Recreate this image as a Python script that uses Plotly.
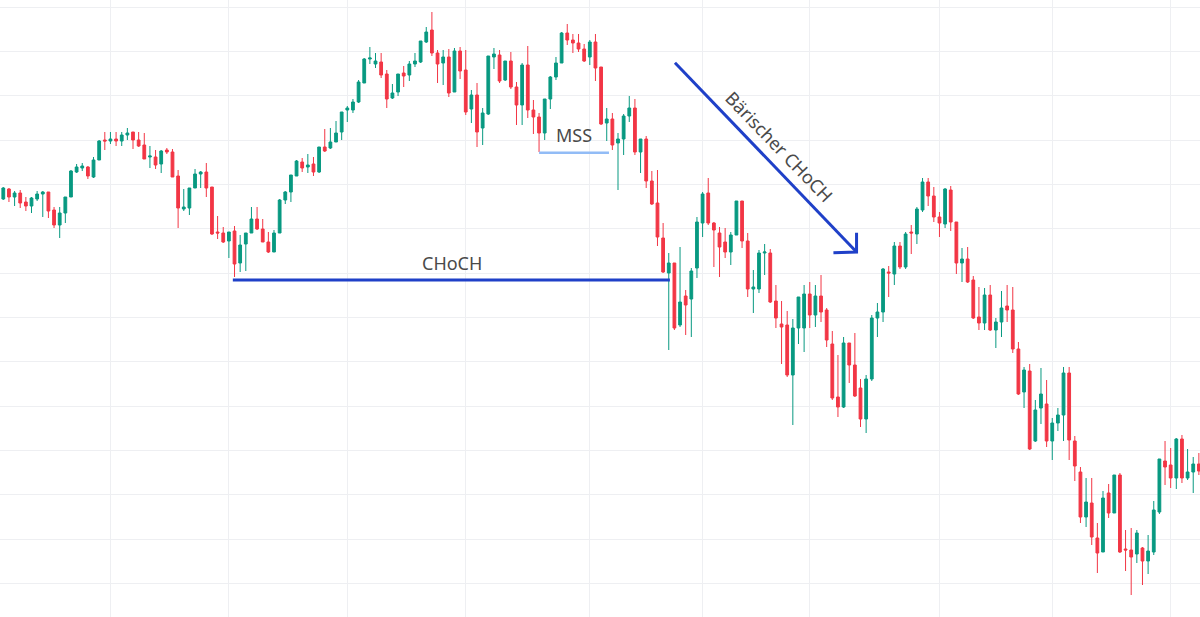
import plotly.graph_objects as go

# OHLC values (arbitrary price units, one candle per session)
open_p = [
    417, 421, 431, 423, 427, 418, 414, 421, 426, 428,
    410, 395, 407, 423, 448, 452, 453, 443, 460, 480,
    479, 481, 479, 485, 488, 480, 475, 463, 463, 456,
    470, 468, 444, 411, 412, 432, 446, 448, 433, 388,
    387, 379, 389, 357, 376, 387, 401, 391, 378, 368,
    387, 420, 428, 444, 458, 453, 456, 448, 473, 472,
    478, 488, 510, 510, 518, 537, 561, 556, 558, 546,
    522, 528, 547, 545, 556, 558, 578, 590, 567, 557,
    563, 528, 569, 550, 511, 525, 492, 506, 563, 565,
    540, 559, 533, 515, 555, 510, 503, 487, 521, 543,
    557, 587, 580, 577, 571, 563, 578, 553, 497, 501,
    477, 481, 504, 512, 468, 481, 439, 417, 382, 347,
    357, 295, 324, 321, 352, 397, 427, 397, 387, 378,
    368, 385, 419, 379, 331, 331, 367, 367, 319, 296,
    295, 245, 292, 292, 326, 305, 324, 310, 276, 223,
    213, 277, 255, 232, 201, 241, 302, 308, 348, 346,
    374, 353, 388, 386, 410, 438, 424, 403, 396, 430,
    398, 357, 361, 340, 303, 297, 325, 290, 298, 314,
    310, 271, 228, 249, 179, 212, 216, 179, 197, 205,
    247, 179, 148, 103, 117, 82, 68, 127, 107, 145,
    71, 70, 66, 72, 59, 68, 108, 159, 155, 142,
    181, 142, 148, 156,
]
high_p = [
    427, 433, 432, 429, 430, 423, 423, 429, 429, 428,
    413, 413, 423, 450, 456, 457, 454, 463, 480, 488,
    488, 488, 488, 492, 488, 488, 487, 474, 470, 470,
    472, 471, 450, 431, 432, 451, 449, 457, 433, 404,
    393, 388, 394, 385, 387, 413, 413, 401, 388, 390,
    421, 429, 445, 460, 462, 466, 463, 473, 491, 492,
    499, 508, 514, 521, 540, 562, 573, 567, 567, 550,
    536, 546, 554, 559, 567, 579, 593, 608, 570, 570,
    571, 572, 573, 570, 530, 537, 512, 564, 572, 570,
    559, 568, 538, 557, 574, 520, 507, 521, 544, 563,
    588, 596, 586, 586, 576, 580, 586, 553, 512, 507,
    487, 506, 524, 521, 481, 484, 449, 450, 397, 367,
    357, 373, 330, 352, 403, 428, 442, 398, 393, 392,
    388, 419, 419, 387, 350, 370, 376, 371, 335, 319,
    309, 301, 323, 335, 338, 335, 345, 312, 289, 265,
    283, 277, 287, 241, 245, 305, 317, 352, 354, 378,
    378, 388, 395, 413, 442, 442, 433, 408, 432, 434,
    398, 372, 373, 344, 333, 332, 335, 302, 329, 335,
    333, 278, 253, 256, 220, 252, 240, 202, 212, 253,
    253, 184, 153, 142, 142, 97, 129, 136, 145, 147,
    90, 92, 90, 73, 85, 119, 161, 179, 172, 182,
    185, 171, 163, 167,
]
low_p = [
    415, 420, 418, 414, 412, 409, 407, 419, 403, 402,
    392, 382, 397, 423, 447, 449, 441, 442, 460, 470,
    476, 474, 474, 480, 471, 473, 461, 452, 451, 447,
    466, 443, 392, 409, 405, 432, 432, 423, 385, 381,
    377, 362, 343, 348, 349, 387, 390, 378, 367, 368,
    387, 416, 418, 444, 448, 447, 444, 447, 468, 471,
    478, 480, 498, 507, 517, 537, 556, 552, 542, 512,
    521, 524, 533, 539, 553, 557, 577, 564, 537, 535,
    523, 528, 541, 505, 497, 473, 475, 505, 551, 537,
    539, 531, 495, 495, 502, 486, 468, 480, 511, 540,
    557, 575, 567, 568, 558, 555, 539, 495, 479, 470,
    430, 465, 498, 465, 447, 432, 415, 374, 347, 270,
    290, 293, 285, 283, 342, 383, 395, 353, 343, 362,
    355, 385, 372, 323, 307, 327, 345, 317, 292, 256,
    243, 195, 276, 268, 292, 293, 298, 273, 220, 203,
    212, 237, 223, 193, 187, 239, 283, 298, 323, 335,
    351, 351, 366, 376, 408, 414, 398, 383, 392, 389,
    346, 338, 337, 301, 290, 290, 289, 272, 283, 298,
    267, 225, 212, 170, 178, 196, 173, 160, 189, 179,
    160, 139, 97, 93, 75, 47, 68, 102, 107, 67,
    49, 25, 57, 35, 46, 65, 106, 135, 132, 131,
    137, 140, 127, 145,
]
close_p = [
    425, 432, 423, 427, 417, 414, 422, 426, 428, 409,
    395, 407, 423, 449, 453, 454, 444, 460, 479, 479,
    481, 479, 485, 487, 480, 474, 461, 464, 455, 469,
    468, 443, 412, 413, 432, 446, 448, 432, 386, 387,
    378, 388, 356, 375, 387, 401, 391, 378, 368, 387,
    420, 428, 445, 459, 452, 455, 448, 473, 469, 478,
    487, 508, 512, 518, 538, 561, 562, 559, 545, 521,
    527, 546, 544, 556, 559, 579, 588, 567, 556, 563,
    527, 569, 549, 508, 525, 488, 507, 564, 566, 539,
    559, 533, 515, 555, 510, 503, 487, 521, 543, 557,
    587, 580, 577, 571, 559, 578, 552, 496, 501, 475,
    481, 504, 512, 468, 481, 439, 416, 383, 348, 357,
    292, 318, 315, 349, 398, 426, 397, 390, 373, 368,
    385, 419, 379, 331, 333, 367, 368, 318, 302, 293,
    245, 292, 323, 326, 305, 324, 308, 280, 222, 213,
    277, 255, 224, 201, 241, 302, 308, 351, 347, 374,
    353, 386, 387, 411, 438, 424, 403, 397, 431, 398,
    357, 361, 338, 302, 297, 325, 290, 298, 312, 310,
    271, 226, 250, 171, 210, 226, 179, 197, 205, 247,
    180, 154, 103, 118, 83, 67, 122, 107, 145, 68,
    70, 63, 87, 59, 69, 110, 161, 153, 142, 181,
    142, 148, 156, 149,
]
sessions = list(range(len(open_p)))

# session index where a new month starts (vertical grid)
month_starts = [20, 41, 62, 83, 105, 125, 144, 167, 187, 208]

# drawn structure levels
choch_level, choch_from, choch_to = 340, 41.7, 119.2
mss_level, mss_from, mss_to = 467.3, 96.0, 108.4
arrow_start = (120.1, 557.3)
arrow_tip = (152.3, 368.0)
arrow_head = [(148.2, 367.3), (152.3, 368.0), (152.3, 387.3)]

GREEN = "#089981"
RED = "#f23645"
BLUE = "#1f40c8"
TEXT = "#4a4a4a"
FONT = "Noto Sans"

fig = go.Figure(go.Candlestick(
    x=sessions,
    open=open_p,
    high=high_p,
    low=low_p,
    close=close_p,
    increasing=dict(line=dict(color=GREEN, width=1), fillcolor=GREEN),
    decreasing=dict(line=dict(color=RED, width=1), fillcolor=RED),
    showlegend=False,
))

# structure lines
fig.add_shape(type="line", x0=choch_from, x1=choch_to, y0=choch_level, y1=choch_level,
              line=dict(color=BLUE, width=3))
fig.add_shape(type="line", x0=mss_from, x1=mss_to, y0=mss_level, y1=mss_level,
              line=dict(color="#92bcf6", width=2.5))
fig.add_shape(type="line", x0=arrow_start[0], y0=arrow_start[1], x1=arrow_tip[0], y1=arrow_tip[1],
              line=dict(color=BLUE, width=3))
head_path = "M {} {} L {} {} L {} {}".format(*[v for p in arrow_head for v in p])
fig.add_shape(type="path", path=head_path, line=dict(color=BLUE, width=3))

fig.add_annotation(x=80.6, y=357, text="CHoCH", showarrow=False,
                   font=dict(family=FONT, size=18, color=TEXT))
fig.add_annotation(x=102.2, y=485, text="MSS", showarrow=False,
                   font=dict(family=FONT, size=18, color=TEXT))
fig.add_annotation(x=138.7, y=473.3, text="Bärischer CHoCH", showarrow=False, textangle=46,
                   font=dict(family=FONT, size=18, color=TEXT))

fig.update_layout(
    width=1200,
    height=617,
    margin=dict(l=0, r=0, t=0, b=0),
    paper_bgcolor="white",
    plot_bgcolor="white",
    xaxis=dict(
        range=[0.415, 213.2],
        tickvals=month_starts,
        showticklabels=False,
        showgrid=True,
        gridcolor="#eeeff2",
        gridwidth=1,
        zeroline=False,
        rangeslider=dict(visible=False),
    ),
    yaxis=dict(
        range=[3, 620],
        tick0=612.7,
        dtick=44.33,
        showticklabels=False,
        showgrid=True,
        gridcolor="#eeeff2",
        gridwidth=1,
        zeroline=False,
    ),
)

# page has a default body margin; drop it so the chart fills the window
fig.write_html("out.html", config={"displayModeBar": False},
               post_script="document.body.style.margin = '0';")
